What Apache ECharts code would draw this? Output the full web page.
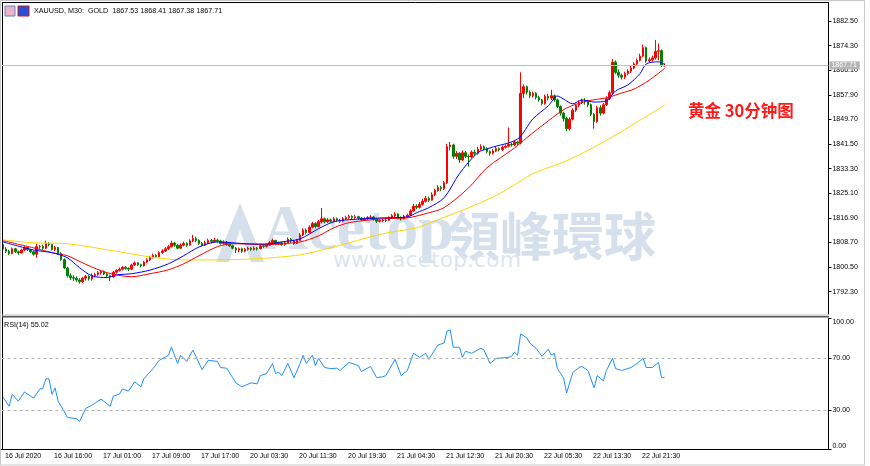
<!DOCTYPE html>
<html>
<head>
<meta charset="utf-8">
<script src="https://cdn.jsdelivr.net/npm/echarts/dist/echarts.min.js"></script>
<style>
  html, body { margin: 0; padding: 0; background: #fff; }
  #main { width: 870px; height: 466px; }
</style>
</head>
<body>
<div id="main"></div>
<script>
// XAUUSD M30 candles: [open, close, low, high]
var candles = [
  [1808.0,1806.5,1806.0,1808.6],[1806.5,1805.8,1805.2,1807.2],[1805.8,1805.0,1804.5,1806.3],[1805.0,1806.6,1804.8,1807.0],[1806.6,1805.6,1805.2,1806.9],
  [1805.6,1805.2,1804.6,1806.0],[1805.2,1806.2,1805.0,1806.6],[1806.2,1807.0,1805.8,1807.5],[1807.0,1806.3,1805.9,1807.4],[1806.3,1805.6,1805.2,1806.6],
  [1805.6,1804.8,1804.3,1806.0],[1804.8,1807.3,1803.6,1808.2],[1807.3,1807.4,1806.6,1807.9],[1807.4,1806.8,1806.2,1808.0],[1806.8,1808.4,1806.5,1809.3],
  [1808.4,1808.0,1807.4,1808.8],[1808.0,1806.4,1806.0,1808.4],[1806.4,1807.0,1805.8,1807.6],[1807.0,1805.0,1804.6,1807.2],[1805.0,1803.0,1802.6,1805.4],
  [1803.0,1800.2,1799.8,1803.4],[1800.2,1797.6,1797.0,1800.6],[1797.6,1797.0,1796.2,1798.4],[1797.0,1796.8,1795.8,1797.8],[1796.8,1796.2,1795.6,1797.4],
  [1796.2,1795.6,1795.0,1796.8],[1795.6,1796.8,1795.2,1797.2],[1796.8,1797.4,1796.0,1797.9],[1797.4,1796.6,1796.0,1797.8],[1796.6,1797.6,1796.0,1798.4],
  [1797.6,1798.0,1797.0,1798.6],[1798.0,1798.6,1797.6,1799.2],[1798.6,1799.0,1798.0,1799.6],[1799.0,1798.2,1797.8,1799.4],[1798.2,1797.6,1797.0,1798.6],
  [1797.6,1797.2,1795.8,1798.0],[1797.2,1798.8,1797.0,1799.2],[1798.8,1799.4,1798.4,1799.8],[1799.4,1799.8,1799.0,1800.4],[1799.8,1800.4,1799.4,1800.9],
  [1800.4,1800.0,1799.6,1800.8],[1800.0,1799.8,1799.2,1800.4],[1799.8,1801.2,1799.6,1801.6],[1801.2,1801.9,1800.9,1802.4],[1801.9,1801.3,1800.8,1802.2],
  [1801.3,1800.9,1800.4,1801.6],[1800.9,1802.2,1800.7,1802.6],[1802.2,1802.9,1801.8,1803.4],[1802.9,1803.8,1802.5,1804.3],[1803.8,1804.4,1803.4,1805.0],
  [1804.4,1804.0,1803.5,1804.8],[1804.0,1805.3,1803.8,1805.8],[1805.3,1805.9,1804.9,1806.4],[1805.9,1806.6,1805.5,1807.2],[1806.6,1807.3,1806.2,1807.9],
  [1807.3,1808.5,1807.0,1809.3],[1808.5,1807.8,1807.2,1808.9],[1807.8,1806.8,1806.4,1808.2],[1806.8,1807.8,1806.6,1808.4],[1807.8,1808.4,1807.4,1809.0],
  [1808.4,1807.8,1807.2,1808.8],[1807.8,1809.2,1807.6,1809.8],[1809.2,1810.0,1808.8,1811.2],[1810.0,1809.4,1808.8,1810.6],[1809.4,1808.4,1807.9,1809.8],
  [1808.4,1807.8,1807.4,1808.9],[1807.8,1808.6,1807.5,1809.3],[1808.6,1809.4,1808.2,1810.0],[1809.4,1809.0,1808.4,1809.9],[1809.0,1809.5,1808.7,1810.2],
  [1809.5,1809.2,1808.6,1810.0],[1809.2,1808.4,1808.0,1809.6],[1808.4,1808.8,1807.9,1809.4],[1808.8,1808.2,1807.6,1809.2],[1808.2,1807.6,1807.2,1808.6],
  [1807.6,1806.8,1806.4,1808.0],[1806.8,1806.2,1805.2,1807.2],[1806.2,1806.6,1805.4,1807.0],[1806.6,1805.8,1805.2,1807.0],[1805.8,1806.4,1805.4,1806.9],
  [1806.4,1806.8,1806.0,1807.3],[1806.8,1806.4,1805.9,1807.2],[1806.4,1806.8,1806.0,1807.4],[1806.8,1806.6,1806.0,1807.2],[1806.6,1807.6,1806.4,1808.0],
  [1807.6,1807.4,1806.9,1808.0],[1807.4,1807.8,1807.0,1808.4],[1807.8,1808.6,1807.5,1809.2],[1808.6,1809.4,1808.2,1810.0],[1809.4,1808.2,1807.8,1809.6],
  [1808.2,1808.6,1807.9,1809.0],[1808.6,1808.0,1807.6,1809.0],[1808.0,1808.6,1807.6,1809.2],[1808.6,1809.8,1808.4,1810.4],[1809.8,1809.2,1808.6,1810.2],
  [1809.2,1808.4,1807.9,1809.6],[1808.4,1809.4,1808.2,1809.8],[1809.4,1811.2,1809.2,1811.8],[1811.2,1812.8,1810.8,1813.4],[1812.8,1812.0,1811.4,1813.4],
  [1812.0,1813.8,1811.8,1814.4],[1813.8,1815.0,1813.4,1815.6],[1815.0,1814.0,1813.4,1815.4],[1814.0,1815.6,1813.8,1816.2],[1815.6,1816.6,1815.0,1820.2],
  [1816.6,1815.6,1815.0,1817.0],[1815.6,1816.2,1815.2,1816.8],[1816.2,1815.8,1815.2,1816.6],[1815.8,1816.6,1815.4,1817.2],[1816.6,1816.2,1815.6,1817.0],
  [1816.2,1815.8,1815.2,1816.6],[1815.8,1816.6,1815.4,1817.2],[1816.6,1817.0,1816.2,1817.6],[1817.0,1817.4,1816.6,1818.0],[1817.4,1817.0,1816.5,1817.8],
  [1817.0,1817.3,1816.6,1817.9],[1817.3,1816.8,1816.2,1817.6],[1816.8,1816.2,1815.8,1817.2],[1816.2,1816.6,1815.9,1817.1],[1816.6,1817.0,1816.2,1817.5],
  [1817.0,1817.2,1816.6,1817.8],[1817.2,1816.4,1816.0,1817.5],[1816.4,1815.8,1815.2,1816.8],[1815.8,1816.0,1815.4,1816.5],[1816.0,1816.2,1815.6,1816.7],
  [1816.2,1816.1,1815.5,1816.7],[1816.1,1816.9,1815.8,1817.4],[1816.9,1817.6,1816.6,1818.2],[1817.6,1818.2,1817.2,1818.8],[1818.2,1817.0,1816.6,1818.4],
  [1817.0,1816.6,1816.0,1817.4],[1816.6,1817.4,1816.4,1817.9],[1817.4,1817.8,1817.0,1818.3],[1817.8,1819.2,1817.6,1819.8],[1819.2,1820.8,1819.0,1821.6],
  [1820.8,1820.4,1819.8,1821.4],[1820.4,1821.4,1820.0,1822.2],[1821.4,1822.4,1821.0,1823.2],[1822.4,1823.4,1822.0,1824.2],[1823.4,1822.8,1822.2,1824.0],
  [1822.8,1824.6,1822.6,1825.4],[1824.6,1826.0,1824.2,1826.6],[1826.0,1827.0,1825.6,1827.8],[1827.0,1826.6,1825.8,1827.6],[1826.6,1828.6,1826.2,1829.2],
  [1828.6,1840.6,1828.2,1841.6],[1840.6,1841.2,1839.4,1842.2],[1841.2,1837.4,1836.6,1841.6],[1837.4,1838.4,1836.6,1839.2],[1838.4,1836.2,1835.2,1838.8],
  [1836.2,1838.6,1835.8,1839.4],[1838.6,1837.4,1836.8,1839.2],[1837.4,1837.2,1834.0,1838.0],[1837.2,1838.8,1836.8,1839.4],[1838.8,1838.4,1837.6,1839.6],
  [1838.4,1839.8,1838.0,1840.6],[1839.8,1840.6,1839.4,1841.4],[1840.6,1840.0,1839.4,1841.0],[1840.0,1839.0,1838.4,1840.4],[1839.0,1838.4,1837.6,1839.4],
  [1838.4,1839.2,1838.0,1839.8],[1839.2,1840.0,1838.8,1840.6],[1840.0,1839.6,1839.0,1840.4],[1839.6,1840.4,1839.2,1841.0],[1840.4,1840.8,1840.0,1841.4],
  [1840.8,1841.4,1840.4,1847.0],[1841.4,1841.2,1840.6,1842.0],[1841.2,1842.2,1840.8,1842.8],[1842.2,1841.8,1841.0,1842.6],[1841.8,1858.4,1841.4,1865.4],
  [1858.4,1860.6,1856.8,1861.4],[1860.6,1858.8,1858.0,1861.0],[1858.8,1857.6,1856.8,1859.4],[1857.6,1858.4,1857.0,1859.0],[1858.4,1857.0,1856.4,1858.8],
  [1857.0,1856.2,1855.6,1857.6],[1856.2,1855.0,1854.4,1856.6],[1855.0,1857.4,1854.6,1858.0],[1857.4,1856.8,1856.0,1858.2],[1856.8,1857.6,1856.2,1859.6],
  [1857.6,1856.2,1855.6,1858.0],[1856.2,1854.0,1853.4,1856.6],[1854.0,1851.8,1851.0,1854.4],[1851.8,1850.0,1849.0,1852.2],[1850.0,1846.6,1845.8,1850.6],
  [1846.6,1849.8,1846.0,1850.4],[1849.8,1852.8,1849.4,1853.4],[1852.8,1854.4,1852.2,1855.0],[1854.4,1855.4,1853.8,1856.0],[1855.4,1856.0,1854.8,1856.6],
  [1856.0,1855.6,1854.6,1856.8],[1855.6,1854.6,1853.8,1856.2],[1854.6,1851.4,1850.8,1855.0],[1851.4,1849.0,1846.6,1851.8],[1849.0,1853.6,1848.6,1854.2],
  [1853.6,1851.8,1851.0,1854.4],[1851.8,1854.6,1851.4,1855.2],[1854.6,1856.6,1854.2,1857.4],[1856.6,1858.6,1856.2,1859.4],[1858.6,1868.8,1858.2,1869.8],
  [1868.8,1865.4,1864.8,1869.4],[1865.4,1864.4,1863.6,1866.4],[1864.4,1863.8,1863.0,1865.0],[1863.8,1865.0,1863.2,1865.6],[1865.0,1865.8,1864.4,1866.4],
  [1865.8,1866.8,1865.2,1867.6],[1866.8,1868.2,1866.4,1868.8],[1868.2,1869.4,1867.6,1870.0],[1869.4,1870.8,1869.0,1871.6],[1870.8,1873.6,1870.4,1874.6],
  [1873.6,1869.2,1868.6,1874.0],[1869.2,1869.6,1868.8,1870.4],[1869.6,1870.2,1869.0,1871.0],[1870.2,1872.4,1869.6,1876.2],[1872.4,1872.6,1869.4,1875.0],
  [1872.6,1867.8,1867.2,1873.0],[1867.53,1867.71,1867.38,1868.41]
];

// moving averages: [bar index, price]
var maFast = [[0,1808.9],[10,1806.2],[16,1805.3],[21,1803.6],[25,1800.3],[29,1797.6],[34,1797.0],[37,1797.9],[42,1798.3],[48,1799.5],
  [54,1801.6],[59,1804.3],[64,1807.2],[70,1808.9],[75,1808.6],[81,1808.2],[86,1808.2],[91,1808.9],[97,1809.9],[103,1813.3],
  [108,1815.6],[113,1816.3],[124,1816.9],[132,1817.2],[135,1818.6],[139,1820.3],[144,1823.6],[149,1831.6],[155,1838.6],[159,1840.2],
  [168,1843.2],[173,1849.9],[178,1854.2],[181,1857.5],[183,1856.5],[186,1854.9],[189,1856.2],[193,1855.5],[197,1855.9],[200,1859.2],
  [204,1861.2],[208,1865.0],[210,1868.2],[214,1868.9],[216,1868.0]];
var maMid = [[0,1809.3],[10,1806.9],[16,1805.3],[21,1804.3],[26,1801.9],[32,1799.3],[37,1797.9],[42,1797.3],[48,1798.3],[54,1799.6],
  [59,1801.6],[64,1804.3],[70,1807.3],[75,1808.3],[86,1808.0],[97,1808.9],[103,1810.9],[108,1813.6],[113,1815.3],[124,1816.6],
  [132,1816.9],[139,1818.6],[144,1820.3],[152,1826.9],[158,1833.6],[167,1840.2],[171,1843.6],[178,1849.2],[184,1853.5],[191,1855.9],
  [197,1856.9],[202,1858.5],[206,1859.8],[211,1862.8],[216,1866.7]];
var maSlow = [[0,1809.6],[10,1808.6],[21,1808.3],[32,1806.6],[42,1804.9],[50,1803.6],[59,1802.9],[70,1802.9],[81,1803.2],[91,1803.9],
  [97,1804.6],[103,1805.9],[113,1808.6],[124,1811.6],[135,1813.6],[140,1815.5],[152,1820.3],[162,1824.9],[173,1831.6],[184,1835.9],
  [195,1841.6],[206,1848.2],[216,1854.5]];

// RSI(14): [bar index, value]
var rsiPoints = [[0,39.8],[2,32.8],[3,42],[5,36.7],[7,43.8],[10,39],[12,46],[13,46.5],[14,53.9],[15,53.9],[16,42],[17,46.9],[18,36.7],
  [20,28.9],[21,24.2],[24,23.4],[25,21],[27,31.2],[29,33.6],[32,38.3],[35,32.8],[36,40.6],[38,42.2],[39,46],[41,44.5],[43,51.6],
  [45,47.7],[46,53.9],[49,61.7],[51,68],[54,71.9],[55,78.1],[57,65.6],[58,71.9],[60,67.2],[62,75.8],[65,60.9],[67,68],[70,67.2],
  [71,62.5],[73,62],[75,54.7],[76,50.8],[78,47.7],[81,50.8],[83,50],[84,56.3],[86,57.8],[88,65.6],[89,57.8],[90,59],[91,56.3],
  [93,65.6],[95,54.7],[97,65.6],[98,71.9],[99,65.6],[101,71.9],[102,64],[103,69.5],[105,62.5],[107,61.7],[109,62],[110,60.2],
  [113,66.4],[116,64],[117,59.4],[120,63.3],[122,54.7],[124,55.5],[125,56.3],[128,68.8],[130,56.3],[132,60.2],[134,73.4],[136,70.3],
  [138,73.4],[139,68.8],[142,79.7],[144,81.3],[145,90.6],[146,91.4],[147,78.1],[149,78.1],[150,70.3],[151,75],[153,73.4],[156,77.3],
  [157,76],[159,65.6],[161,69.5],[165,70.3],[166,71],[167,74.2],[168,71.9],[169,88.3],[171,85.2],[172,81.3],[174,77.3],[176,71.1],
  [178,76.6],[179,72],[180,73.4],[181,61.7],[183,54.7],[184,43],[186,58.6],[188,62.5],[189,63.3],[191,60.2],[193,46.9],[194,56.3],
  [196,52.3],[197,60.2],[199,69.5],[200,61.7],[202,60.2],[205,62.5],[207,65.6],[209,69.5],[210,62.5],[212,62.5],[214,66.4],[215,54.7],[216,55.02]];

var tickLabels = ['16 Jul 2020','16 Jul 16:00','17 Jul 01:00','17 Jul 09:00','17 Jul 17:00','20 Jul 03:30','20 Jul 11:30',
  '20 Jul 19:30','21 Jul 04:30','21 Jul 12:30','21 Jul 20:30','22 Jul 05:30','22 Jul 13:30','22 Jul 21:30'];
var priceTicks = [1792.30,1800.50,1808.70,1816.90,1825.10,1833.30,1841.50,1849.70,1857.90,1866.10,1874.30,1882.50];
var rsiTicks = [0,30,70,100];
var rsiLevels = [70,30];

var slotCount = 270;   // bars + empty shift on the right
var categories = [];
for (var i = 0; i < slotCount; i++) categories.push(i);

var last = candles[candles.length - 1];

function isLabelSlot(idx) { return idx % 16 === 0 && idx / 16 < tickLabels.length; }

var myChart = echarts.init(document.getElementById('main'));
var small = {fontFamily: 'Liberation Sans', fontSize: 7, color: '#000'};
var wmColor = '#d5e0ec';

var option = {
  animation: false,
  backgroundColor: '#fff',
  grid: [
    {left: 1.47, top: 3, width: 827, height: 311},
    {left: 1.47, top: 318.6, width: 827, height: 130.5}
  ],
  xAxis: [
    {type: 'category', gridIndex: 0, data: categories, show: false},
    {type: 'category', gridIndex: 1, data: categories,
      axisLine: {lineStyle: {color: '#000'}},
      axisTick: {interval: isLabelSlot, alignWithLabel: true, length: 3, lineStyle: {color: '#000'}},
      axisLabel: Object.assign({interval: isLabelSlot, align: 'left', margin: 3, padding: [0, 0, 0, 2],
        formatter: function (v, idx) { return tickLabels[idx / 16] || ''; }}, small)
    }
  ],
  yAxis: [
    {type: 'value', gridIndex: 0, position: 'right', min: 1784.87, max: 1888.5,
      splitLine: {show: false},
      axisLine: {show: true, lineStyle: {color: '#000'}},
      axisTick: {show: true, length: 3, customValues: priceTicks, lineStyle: {color: '#000'}},
      axisLabel: Object.assign({customValues: priceTicks, margin: 4,
        formatter: function (v) { return v.toFixed(2); }}, small)
    },
    {type: 'value', gridIndex: 1, position: 'right', min: 0, max: 100,
      splitLine: {show: false},
      axisLine: {show: true, lineStyle: {color: '#000'}},
      axisTick: {show: true, length: 3, customValues: rsiTicks, lineStyle: {color: '#000'}},
      axisLabel: Object.assign({customValues: rsiTicks, margin: 4,
        verticalAlignMaxLabel: 'top', verticalAlignMinLabel: 'bottom',
        formatter: function (v) { return v.toFixed(2); }}, small)
    }
  ],
  series: [
    {
      name: 'XAUUSD', type: 'candlestick', xAxisIndex: 0, yAxisIndex: 0, z: 3,
      data: candles, barWidth: 2,
      itemStyle: {color: '#ff0000', color0: '#008000', borderColor: '#ff0000', borderColor0: '#008000', borderWidth: 1},
      markLine: {
        silent: true, symbol: ['none', 'none'],
        lineStyle: {color: '#c0c0c0', type: 'solid', width: 1},
        label: {position: 'end', distance: 1, backgroundColor: '#b4b4b4', color: '#fff', padding: [1, 3, 0, 2],
          fontFamily: 'Liberation Sans', fontSize: 7, formatter: function (p) { return p.value.toFixed(2); }},
        data: [{yAxis: last[1]}]
      }
    },
    {name: 'MA slow', type: 'line', xAxisIndex: 0, yAxisIndex: 0, z: 4, data: maSlow, showSymbol: false, smooth: 0.3,
      lineStyle: {color: '#ffd700', width: 1}},
    {name: 'MA mid', type: 'line', xAxisIndex: 0, yAxisIndex: 0, z: 4, data: maMid, showSymbol: false, smooth: 0.3,
      lineStyle: {color: '#ff0000', width: 1}},
    {name: 'MA fast', type: 'line', xAxisIndex: 0, yAxisIndex: 0, z: 4, data: maFast, showSymbol: false, smooth: 0.3,
      lineStyle: {color: '#0000ff', width: 1}},
    {name: 'RSI(14)', type: 'line', xAxisIndex: 1, yAxisIndex: 1, data: rsiPoints, showSymbol: false,
      lineStyle: {color: '#1e90ff', width: 1},
      markLine: {
        silent: true, symbol: ['none', 'none'], label: {show: false},
        lineStyle: {color: '#b0b0b0', type: [3, 3], width: 1},
        data: rsiLevels.map(function (v) { return {yAxis: v}; })
      }
    }
  ],
  graphic: [
    // watermark (behind the candles)
    {type: 'group', z: -5, children: [
      {type: 'polygon', shape: {points: [[240,203],[216,262],[229,262],[240,230],[251,262],[264,262]]},
        style: {fill: wmColor}},
      {type: 'text', style: {text: 'Acetop', x: 262, y: 232, fill: wmColor,
        font: 'bold 64px "Liberation Serif"', textVerticalAlign: 'middle', verticalAlign: 'middle'}},
      {type: 'text', style: {text: '領峰環球', x: 448, y: 236, fill: wmColor,
        font: 'bold 52px "Noto Sans CJK TC"', textVerticalAlign: 'middle', verticalAlign: 'middle'}},
      {type: 'text', style: {text: 'www.acetop.com', x: 333, y: 261, fill: '#dce5ef',
        font: '22px "DejaVu Sans"', textVerticalAlign: 'middle', verticalAlign: 'middle'}}
    ]},
    // frame
    {type: 'rect', z: 5, silent: true, shape: {x: 0.5, y: 0.5, width: 864, height: 464.5}, style: {fill: 'none', stroke: '#c8c8c8'}},
    {type: 'line', z: 5, shape: {x1: 2.5, y1: 2, x2: 2.5, y2: 449.5}, style: {stroke: '#000', lineWidth: 1}},
    {type: 'line', z: 5, shape: {x1: 2, y1: 2.5, x2: 829, y2: 2.5}, style: {stroke: '#000', lineWidth: 1}},
    {type: 'line', z: 5, shape: {x1: 2, y1: 315, x2: 829, y2: 315}, style: {stroke: '#b8b8b8', lineWidth: 1}},
    {type: 'line', z: 5, shape: {x1: 2, y1: 316.8, x2: 829, y2: 316.8}, style: {stroke: '#555', lineWidth: 1.5}},
    // header icons and text
    {type: 'rect', z: 5, shape: {x: 5, y: 6, width: 10, height: 10}, style: {fill: '#e8b4c8', stroke: '#6a7fc0'}},
    {type: 'rect', z: 5, shape: {x: 18, y: 6, width: 11, height: 10}, style: {fill: '#2b4fd8', stroke: '#c02020'}},
    {type: 'text', z: 5, style: {text: 'XAUUSD, M30:  GOLD  1867.53 1868.41 1867.38 1867.71', x: 34, y: 11, fill: '#000',
      font: '7.2px "Liberation Sans"', textVerticalAlign: 'middle', verticalAlign: 'middle'}},
    {type: 'text', z: 5, style: {text: 'RSI(14) 55.02', x: 4, y: 325, fill: '#000',
      font: '7.2px "Liberation Sans"', textVerticalAlign: 'middle', verticalAlign: 'middle'}},
    // red annotation
    {type: 'text', z: 5, style: {text: '黄金 30分钟图', x: 688, y: 111, fill: '#ff1a1a',
      font: 'bold 16.5px "Noto Sans CJK SC"', textVerticalAlign: 'middle', verticalAlign: 'middle'}}
  ]
};

myChart.setOption(option);
</script>
</body>
</html>
